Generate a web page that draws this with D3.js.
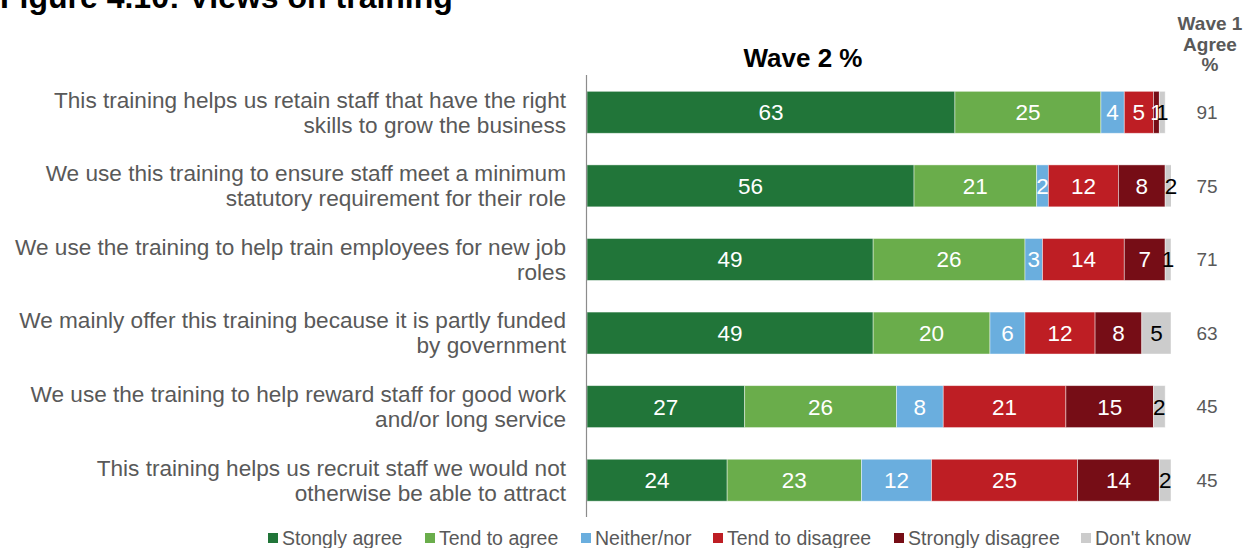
<!DOCTYPE html>
<html>
<head>
<meta charset="utf-8">
<script src="https://cdn.jsdelivr.net/npm/d3@7"></script>
<style>
  html, body { margin: 0; padding: 0; background: #fff; }
  svg { display: block; font-family: Arial, "Liberation Sans", sans-serif; }
</style>
</head>
<body>
<svg id="chart" width="1243" height="548"></svg>
<script>
// Statements (two display lines each)
const statements = [
  ["This training helps us retain staff that have the right", "skills to grow the business"],
  ["We use this training to ensure staff meet a minimum", "statutory requirement for their role"],
  ["We use the training to help train employees for new job", "roles"],
  ["We mainly offer this training because it is partly funded", "by government"],
  ["We use the training to help reward staff for good work", "and/or long service"],
  ["This training helps us recruit staff we would not", "otherwise be able to attract"]
];

const seriesNames = ["Stongly agree", "Tend to agree", "Neither/nor", "Tend to disagree", "Strongly disagree", "Don't know"];
const seriesColors = ["#217539", "#6aad4b", "#6aaede", "#be1e24", "#760d16", "#cccccc"];
const labelColors = ["#fff", "#fff", "#fff", "#fff", "#fff", "#000"];

// Wave 2 percentages per statement
const stronglyAgree    = [63, 56, 49, 49, 27, 24];
const tendToAgree      = [25, 21, 26, 20, 26, 23];
const neitherNor       = [4, 2, 3, 6, 8, 12];
const tendToDisagree   = [5, 12, 14, 12, 21, 25];
const stronglyDisagree = [1, 8, 7, 8, 15, 14];
const dontKnow         = [1, 2, 1, 5, 2, 2];

// Wave 1 agree %
const wave1Agree = [91, 75, 71, 63, 45, 45];

const xTicks = [0, 100];

const seriesValues = [stronglyAgree, tendToAgree, neitherNor, tendToDisagree, stronglyDisagree, dontKnow];

const svg = d3.select("#chart");
const grey = "#595959";

const x = d3.scaleLinear().domain([xTicks[0], xTicks[1]]).range([587, 1171]);
const y = d3.scaleBand().domain(d3.range(statements.length)).range([75.5, 517]).paddingInner(0.43).paddingOuter(0.215);

// Title
svg.append("text")
  .attr("x", 0).attr("y", 8)
  .attr("font-size", 32).attr("font-weight", "bold").attr("fill", "#000")
  .text("Figure 4.10: Views on training");

// Panel heading
svg.append("text")
  .attr("x", 803).attr("y", 67)
  .attr("text-anchor", "middle")
  .attr("font-size", 26).attr("font-weight", "bold").attr("fill", "#000")
  .text("Wave 2 %");

// Wave 1 heading
const w1 = svg.append("text")
  .attr("text-anchor", "middle")
  .attr("font-size", 19).attr("font-weight", "bold").attr("fill", grey);
["Wave 1", "Agree", "%"].forEach((t, i) => {
  w1.append("tspan").attr("x", 1210).attr("y", 30 + i * 20.5).text(t);
});

// Clip bars to the axis maximum
svg.append("clipPath").attr("id", "plotClip")
  .append("rect").attr("x", x(xTicks[0])).attr("y", 0)
  .attr("width", x(xTicks[1]) - x(xTicks[0])).attr("height", 548);

// Stack data
const rows = statements.map((s, i) => {
  let acc = 0;
  return seriesValues.map((vals, k) => {
    const v = vals[i];
    const seg = { row: i, k, v, x0: acc, x1: acc + v };
    acc += v;
    return seg;
  });
});

const barG = svg.append("g").attr("clip-path", "url(#plotClip)");
rows.forEach(row => {
  barG.selectAll(null).data(row).enter().append("rect")
    .attr("x", d => x(d.x0))
    .attr("y", d => y(d.row))
    .attr("width", d => x(d.x1) - x(d.x0))
    .attr("height", y.bandwidth())
    .attr("fill", d => seriesColors[d.k])
    .attr("stroke", "rgba(255,255,255,0.55)")
    .attr("stroke-width", 0.8);
});

// Segment value labels
rows.forEach(row => {
  svg.selectAll(null).data(row).enter().append("text")
    .attr("x", d => (x(d.x0) + x(d.x1)) / 2)
    .attr("y", d => y(d.row) + y.bandwidth() / 2)
    .attr("dy", "0.35em")
    .attr("text-anchor", "middle")
    .attr("font-size", 22.5)
    .attr("fill", d => labelColors[d.k])
    .text(d => d.v);
});

// Category axis line
svg.append("line")
  .attr("x1", 586.5).attr("x2", 586.5)
  .attr("y1", 75).attr("y2", 517)
  .attr("stroke", "#8c8c8c").attr("stroke-width", 1.2);

// Statement labels
statements.forEach((lines, i) => {
  const cy = y(i) + y.bandwidth() / 2;
  const t = svg.append("text")
    .attr("text-anchor", "end")
    .attr("font-size", 22.6).attr("fill", grey);
  lines.forEach((ln, j) => {
    t.append("tspan").attr("x", 566).attr("y", cy - 12.5 + j * 25).attr("dy", "0.35em").text(ln);
  });
});

// Wave 1 values
svg.selectAll(null).data(wave1Agree).enter().append("text")
  .attr("x", 1207)
  .attr("y", (d, i) => y(i) + y.bandwidth() / 2)
  .attr("dy", "0.35em")
  .attr("text-anchor", "middle")
  .attr("font-size", 19).attr("fill", grey)
  .text(d => d);

// Legend
const legendX = [268, 425, 581, 713, 894, 1081];
const lg = svg.append("g");
seriesNames.forEach((name, k) => {
  lg.append("rect")
    .attr("x", legendX[k]).attr("y", 533)
    .attr("width", 10).attr("height", 10)
    .attr("fill", seriesColors[k]);
  lg.append("text")
    .attr("x", legendX[k] + 14).attr("y", 538)
    .attr("dy", "0.35em")
    .attr("font-size", 19.5).attr("fill", grey)
    .text(name);
});
</script>
</body>
</html>
